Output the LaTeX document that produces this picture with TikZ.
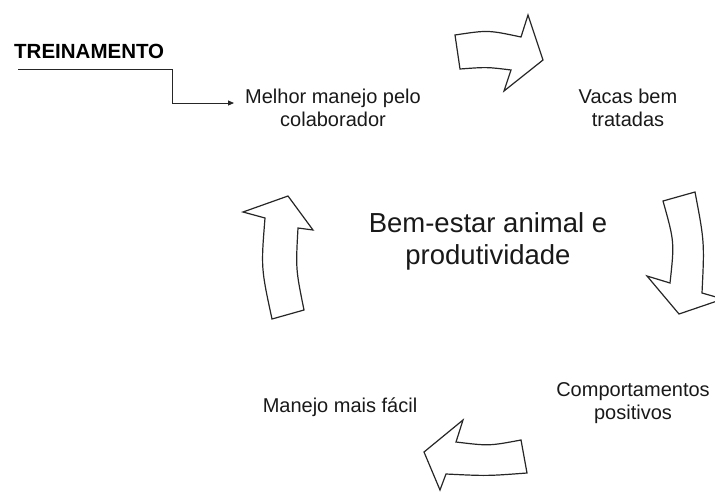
\documentclass[tikz,border=0pt]{standalone}
\usepackage{fontspec}
\setmainfont{Liberation Sans}
\usetikzlibrary{arrows.meta}
\begin{document}
\begin{tikzpicture}[x=1pt,y=-1pt,
  lbl/.style={font=\fontsize{20}{23}\selectfont, align=center, inner sep=0pt, text=black!90},
  ttl/.style={font=\fontsize{27.5}{32}\selectfont, align=center, inner sep=0pt, text=black!90},
  blockarrow/.style={draw=black!85, line width=1.2pt, fill=white, line join=miter},
  conn/.style={draw=black!85, line width=0.9pt}]
\useasboundingbox (0,0) rectangle (715,491);
\clip (0,0) rectangle (715,491);
% texts
\node[font=\bfseries\fontsize{20.5}{24}\selectfont, anchor=base west, inner sep=0pt] (treino) at (14,58) {TREINAMENTO};
\node[lbl] (melhor) at (333,108) {Melhor manejo pelo\\colaborador};
\node[lbl] (vacas) at (628,107.5) {Vacas bem\\tratadas};
\node[lbl] (comport) at (633,403.5) {Comportamentos\\positivos};
\node[lbl, anchor=base] (facil) at (340,412) {Manejo mais fácil};
\node[ttl] (bem) at (488,241) {Bem-estar animal e\\produtividade};
% connector
\coordinate (lstart) at ([xshift=4pt,yshift=-11pt]treino.base west);
\coordinate (corner) at (172,69);
\coordinate (ltip) at (234,103);
\draw[conn, -{Triangle[length=6pt,width=5pt]}] (lstart) -- (corner) |- (ltip);
% block arrows
\draw[blockarrow] (455,35) .. controls (488,30) .. (521,37) -- (528,15) -- (543,60) -- (504,91) -- (511,70) .. controls (487,67) .. (460,69) -- cycle;
\draw[blockarrow] (663,201) -- (695,192) .. controls (704.5,242) .. (702,293) -- (723,299) -- (679,314) -- (647,276) -- (670,283) .. controls (674.5,242) .. (663,201) -- cycle;
\draw[blockarrow] (527,473) .. controls (487,476) .. (446,474) -- (440,490) -- (424,452) -- (463,420) -- (456,442) .. controls (489,446) .. (521,440) -- cycle;
\draw[blockarrow] (272,319) -- (304,310) .. controls (295.7,269) .. (298,228) -- (313,230) -- (288,196) -- (243,212) -- (265,218) .. controls (261,268) .. (272,319) -- cycle;
\end{tikzpicture}
\end{document}
